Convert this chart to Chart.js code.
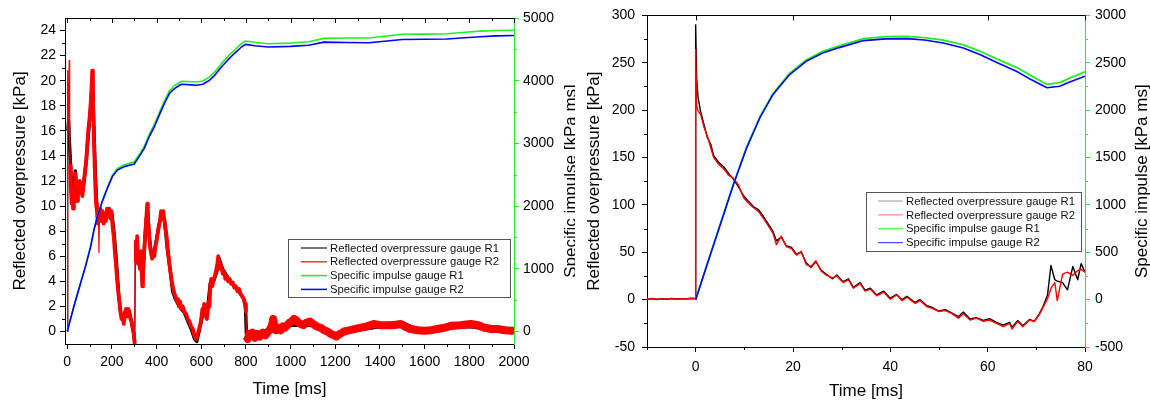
<!DOCTYPE html>
<html>
<head>
<meta charset="utf-8">
<title>Reflected overpressure and specific impulse</title>
<script src="https://cdn.jsdelivr.net/npm/chart.js@4.4.1/dist/chart.umd.min.js"></script>
<style>
  html, body { margin: 0; padding: 0; background: #fff; }
  #wrap { position: relative; width: 1150px; height: 403px; }
  canvas { position: absolute; top: 0; }
  #left { left: 0; }
  #right { left: 575px; }
</style>
</head>
<body>
<div id="wrap">
  <canvas id="left" width="575" height="403"></canvas>
  <canvas id="right" width="575" height="403"></canvas>
</div>
<script>
// ---------- left panel: 0 - 2000 ms ----------
const leftPressTimeR2 = [
  0, 1, 3, 6, 9, 11, 13, 16, 20, 23,
  26, 30, 34, 37, 40, 44, 48, 52, 56, 60,
  64, 68, 72, 76, 80, 85, 90, 95, 100, 105,
  109, 112, 115, 119, 124, 129, 133, 137, 140, 142,
  144, 148, 153, 158, 163, 168, 173, 178, 183, 188,
  193, 198, 203, 208, 213, 218, 223, 228, 233, 238,
  243, 248, 253, 258, 263, 268, 273, 278, 283, 288,
  293, 298, 302, 304, 307, 310, 313, 317, 321, 325,
  329, 333, 336, 339, 342, 346, 350, 354, 358, 361,
  364, 368, 372, 376, 380, 385, 390, 395, 400, 405,
  410, 415, 420, 425, 430, 435, 440, 445, 450, 455,
  460, 465, 470, 475, 480, 485, 490, 495, 500, 505,
  510, 517, 524, 532, 540, 547, 555, 562, 570, 577,
  584, 590, 596, 601, 605, 609, 613, 617, 621, 625,
  629, 633, 637, 641, 645, 649, 654, 660, 666, 672,
  676, 680, 685, 690, 696, 702, 708, 714, 720, 727,
  734, 741, 748, 755, 762, 769, 776, 783, 790, 796,
  800, 802, 808, 815, 822, 830, 840, 850, 862, 875,
  888, 900, 910, 918, 922, 927, 935, 945, 955, 965,
  975, 985, 995, 1005, 1015, 1025, 1035, 1045, 1057, 1070,
  1087, 1100, 1117, 1135, 1150, 1165, 1180, 1195, 1205, 1220,
  1240, 1265, 1290, 1315, 1340, 1372, 1400, 1432, 1460, 1492,
  1510, 1537, 1570, 1597, 1630, 1657, 1690, 1717, 1760, 1807,
  1840, 1867, 1900, 1927, 1960, 1995, 2000
];
const leftPressR2 = [
  0, 20.8, 15.0, 18.0, 21.6, 15.5, 13.2, 11.5, 10.2, 11.0,
  9.8, 10.6, 11.8, 12.6, 11.2, 10.4, 11.4, 11.0, 12.0, 11.2,
  11.8, 10.8, 11.6, 12.2, 12.8, 13.6, 15.0, 16.2, 17.0, 18.2,
  19.5, 20.8, 18.8, 15.5, 12.5, 10.2, 9.6, 8.6, 9.4, 6.3,
  9.0, 9.8, 8.8, 9.6, 8.6, 9.4, 8.8, 9.8, 9.2, 9.8,
  9.0, 9.6, 8.4, 7.6, 6.4, 5.4, 4.2, 3.2, 2.4, 1.6,
  1.0, 1.2, 0.6, 1.4, 1.8, 1.2, 1.8, 1.6, 1.0, 0.8,
  0.2, -0.2, -1.0, 5.5, 7.2, 6.0, 7.6, 5.4, 6.2, 5.0,
  6.4, 4.8, 3.6, 4.4, 5.8, 6.8, 8.0, 9.0, 10.2, 9.0,
  8.2, 7.4, 6.6, 6.2, 5.8, 6.4, 6.0, 6.8, 7.2, 7.8,
  8.4, 8.8, 9.6, 9.2, 9.6, 8.8, 8.2, 7.6, 6.6, 5.8,
  5.0, 4.4, 3.8, 3.4, 3.0, 2.8, 2.4, 2.6, 2.0, 2.4,
  1.8, 2.0, 1.6, 1.4, 1.0, 0.8, 0.4, 0.2, -0.4, -0.6,
  -0.2, 0.2, 0.6, 1.2, 1.8, 1.4, 2.2, 2.0, 1.2, 1.0,
  1.6, 2.4, 2.0, 3.8, 4.2, 3.6, 4.0, 4.4, 4.8, 5.4,
  6.0, 5.6, 5.0, 5.2, 4.6, 4.8, 4.2, 4.4, 4.0, 4.2,
  3.8, 3.9, 3.5, 3.6, 3.2, 3.4, 3.0, 2.8, 2.6, 2.2,
  1.6, -0.4, -0.6, -0.2, -0.4, -0.1, -0.5, -0.2, -0.4, -0.1,
  -0.3, 0.0, 0.2, 0.6, 1.0, 0.4, 0.1, 0.3, 0.1, 0.4,
  0.3, 0.5, 0.7, 0.8, 1.0, 0.9, 0.7, 0.6, 0.5, 0.7,
  0.8, 0.6, 0.4, 0.3, 0.1, 0.0, -0.2, -0.3, -0.4, -0.2,
  0.0, 0.1, 0.2, 0.3, 0.4, 0.6, 0.5, 0.5, 0.5, 0.6,
  0.4, 0.2, 0.1, 0.05, 0.1, 0.2, 0.3, 0.45, 0.5, 0.6,
  0.5, 0.3, 0.2, 0.2, 0.1, 0.05, 0.0
];
const leftPressTimeR1 = [
  0, 1, 3, 6, 10, 14, 18, 24, 30, 36,
  42, 48, 55, 62, 70, 78, 86, 95, 104, 110,
  113, 118, 125, 132, 140, 150, 160, 170, 180, 190,
  200, 210, 220, 230, 240, 250, 260, 270, 280, 290,
  298, 302, 305, 312, 320, 330, 338, 346, 354, 360,
  368, 378, 390, 400, 412, 424, 436, 448, 460, 472,
  484, 496, 510, 525, 540, 555, 570, 580, 590, 600,
  612, 625, 640, 655, 670, 680, 695, 715, 740, 765,
  790, 798, 802, 830, 860, 900, 925, 960, 1000, 1050,
  1100, 1150, 1200, 1260, 1330, 1400, 1500, 1560, 1640, 1720,
  1800, 1880, 1950, 2000
];
const leftPressR1 = [
  0, 19.8, 16.0, 16.8, 15.0, 13.6, 12.0, 10.8, 11.4, 12.8,
  11.2, 11.0, 11.6, 11.4, 11.2, 12.4, 13.8, 15.8, 17.6, 19.2,
  20.2, 17.0, 13.0, 10.0, 9.2, 9.4, 9.0, 9.2, 9.6, 9.4,
  9.4, 7.8, 5.6, 3.0, 1.4, 1.0, 1.6, 1.4, 1.4, 0.6,
  -0.2, -0.9, 6.6, 6.4, 5.8, 5.6, 4.2, 6.8, 9.0, 9.6,
  7.4, 6.0, 6.4, 7.4, 8.6, 9.4, 8.8, 6.6, 5.0, 3.2,
  2.6, 2.2, 1.8, 1.5, 0.8, 0.2, -0.6, -0.8, 0.0, 0.8,
  1.8, 1.2, 3.8, 4.0, 4.8, 5.8, 5.0, 4.4, 3.8, 3.3,
  2.6, 2.0, -0.2, -0.3, -0.2, 0.0, 0.3, 0.2, 0.6, 0.6,
  0.6, 0.1, -0.3, 0.1, 0.3, 0.5, 0.6, 0.1, 0.1, 0.4,
  0.5, 0.3, 0.1, 0.0
];
const leftImpTime = [
  0, 30, 60, 82, 105, 120, 135, 157, 180, 202,
  225, 255, 300, 322, 345, 367, 390, 412, 435, 457,
  480, 510, 540, 577, 607, 637, 660, 690, 720, 750,
  780, 798, 840, 900, 1000, 1080, 1150, 1250, 1350, 1420,
  1500, 1600, 1700, 1780, 1850, 1920, 2000
];
const leftImpR1 = [
  0, 405, 778, 1045, 1365, 1632, 1846, 2088, 2302, 2492,
  2602, 2660, 2705, 2822, 2956, 3142, 3302, 3488, 3676, 3838,
  3920, 3990, 3988, 3980, 3996, 4060, 4140, 4272, 4388, 4494,
  4590, 4632, 4612, 4590, 4600, 4620, 4675, 4680, 4680, 4710,
  4740, 4742, 4748, 4772, 4790, 4800, 4805
];
const leftImpR2 = [
  0, 403, 774, 1039, 1357, 1622, 1834, 2072, 2284, 2470,
  2576, 2629, 2671, 2788, 2920, 3106, 3265, 3450, 3636, 3795,
  3874, 3943, 3938, 3927, 3943, 4007, 4086, 4219, 4335, 4441,
  4537, 4579, 4558, 4537, 4547, 4565, 4615, 4610, 4605, 4630,
  4658, 4660, 4665, 4685, 4700, 4715, 4722
];
const leftXTicks = [0, 200, 400, 600, 800, 1000, 1200, 1400, 1600, 1800, 2000];
const leftXMinor = [100, 300, 500, 700, 900, 1100, 1300, 1500, 1700, 1900];
const leftYTicks = [0, 2, 4, 6, 8, 10, 12, 14, 16, 18, 20, 22, 24];
const leftYMinor = [1, 3, 5, 7, 9, 11, 13, 15, 17, 19, 21, 23];
const leftY2Ticks = [0, 1000, 2000, 3000, 4000, 5000];
const leftY2Minor = [500, 1500, 2500, 3500, 4500];

// ---------- right panel: -10 - 80 ms ----------
const rightPressTime = [
  -10, -9, -8, -7, -6, -5, -4, -3, -2, -1,
  -0.05, 0, 0.2, 0.5, 1, 1.7, 2.4, 3.1, 3.7, 4.7,
  5.8, 6.8, 7.8, 8.8, 9.8, 10.8, 11.9, 12.9, 13.9, 14.9,
  15.9, 16.6, 17.6, 18.6, 19.7, 20.7, 21.7, 22.7, 23.7, 24.7,
  25.8, 26.8, 28.1, 29.0, 30.3, 31.4, 32.4, 33.8, 34.8, 35.9,
  37.2, 38.6, 40.0, 41.3, 42.4, 43.4, 45.1, 46.1, 47.5, 48.5,
  49.9, 51.3, 52.6, 54.0, 55.0, 56.4, 57.7, 59.1, 60.4, 61.8,
  63.2, 64.5, 65.0, 66.2, 67.2, 68.6, 69.6, 70.6, 71.3, 72.3,
  73.0, 73.8, 74.3, 75.4, 76.4, 77.5, 78.5, 79.2, 80
];
const rightPressR1 = [
  0.5, 1.2, 0.2, 1.0, 0.4, 1.3, 0.6, 1.1, 0.8, 1.5,
  1.2, 290, 234, 213, 199, 185, 171, 164, 152, 145,
  140, 133, 127, 119, 110, 104, 98, 95, 88, 80,
  72, 62, 66, 57, 55, 48, 50, 39, 34, 40,
  31, 27, 22, 26, 19, 22, 13, 18, 10, 12,
  5, 9, 1.5, 5.5, 0, 3.5, -3, 0, -6.5, -8,
  -12, -10.5, -14, -18, -13, -20.5, -19, -22, -20, -24,
  -27, -24, -29, -22, -27.5, -21, -23, -15, -8, 5,
  36, 21, 19.5, 18, 10.3, 35, 21, 38, 29
];
const rightPressR2 = [
  0.6, 0.9, 0.4, 0.8, 0.6, 1.0, 0.5, 0.9, 0.7, 1.1,
  1.0, 264, 205, 199, 196, 182, 173, 160, 150, 143,
  138, 131, 128, 121, 108, 102, 97, 93, 86, 78,
  70, 58, 67, 56, 54, 47, 51, 37, 35, 41,
  30, 26, 23, 25, 18, 21, 12, 17, 9, 11,
  4, 8, 0.5, 5, -1, 2.5, -4, -1, -7.5, -9,
  -12.5, -11.5, -14.5, -19.5, -15, -21.5, -19.5, -23, -21.5, -25,
  -28.5, -25, -31, -23, -28.5, -21.5, -23, -16, -9, 1,
  12, 18, -1, 27, 29, 25.5, 30.7, 32, 29
];
const rightImpTime = [
  0, 2.4, 5.1, 7.8, 10.5, 13.2, 15.9, 19.3, 22.7, 26.1,
  29.5, 34.5, 39, 43.4, 47, 50.9, 55, 58.4, 62, 65.9,
  69, 72.2, 74.8, 77, 80
];
const rightImpR1 = [
  0, 380, 802, 1225, 1612, 1928, 2176, 2388, 2530, 2620,
  2678, 2755, 2775, 2779, 2766, 2738, 2688, 2622, 2538, 2452,
  2362, 2271, 2290, 2340, 2404
];
const rightImpR2 = [
  0, 378, 799, 1220, 1605, 1920, 2166, 2376, 2516, 2604,
  2660, 2734, 2752, 2755, 2740, 2709, 2655, 2587, 2500, 2411,
  2320, 2236, 2253, 2300, 2359
];
const rightXTicks = [0, 20, 40, 60, 80];
const rightXMinor = [-10, 10, 30, 50, 70];
const rightYTicks = [-50, 0, 50, 100, 150, 200, 250, 300];
const rightYMinor = [-25, 25, 75, 125, 175, 225, 275];
const rightY2Ticks = [-500, 0, 500, 1000, 1500, 2000, 2500, 3000];
const rightY2Minor = [-250, 250, 750, 1250, 1750, 2250, 2750];

const seriesNames = [
  "Reflected overpressure gauge R1",
  "Reflected overpressure gauge R2",
  "Specific impulse gauge R1",
  "Specific impulse gauge R2"
];

const FONT = '"Liberation Sans", Arial, sans-serif';
const GREEN = "#22ee22";

function pts(xs, ys) {
  return xs.map((x, i) => ({ x: x, y: ys[i] }));
}

// noisy gauge traces: thin on the sharp jumps, a wide band after the 800 ms drop
function bandWidth(wide) {
  return (c) => {
    const dx = c.p1.parsed.x - c.p0.parsed.x;
    const dy = Math.abs(c.p1.parsed.y - c.p0.parsed.y);
    if (dy / dx > 0.95) return 1.2;
    return c.p0.parsed.x >= 802 ? wide : undefined;
  };
}

// draws minor ticks, the top frame line, axis titles and the boxed legend
const frame = {
  id: "frame",
  afterDraw(chart, args, o) {
    const ctx = chart.ctx;
    const a = chart.chartArea;
    const sx = chart.scales.x, sy = chart.scales.y, sy2 = chart.scales.y2;
    const p = (v) => Math.round(v) + 0.5;
    ctx.save();
    ctx.lineWidth = 1;

    ctx.strokeStyle = "#000";
    ctx.beginPath();
    ctx.moveTo(a.left, p(a.top));
    ctx.lineTo(a.right, p(a.top));
    o.xMinor.forEach((v) => {
      const x = p(sx.getPixelForValue(v));
      ctx.moveTo(x, a.bottom); ctx.lineTo(x, a.bottom + 3);
    });
    o.xTicks.forEach((v) => {
      const x = p(sx.getPixelForValue(v));
      ctx.moveTo(x, a.top); ctx.lineTo(x, a.top + 5);
    });
    if (o.topMinor) {
      o.xMinor.forEach((v) => {
        const x = p(sx.getPixelForValue(v));
        ctx.moveTo(x, a.top); ctx.lineTo(x, a.top + 3);
      });
    }
    o.yMinor.forEach((v) => {
      const y = p(sy.getPixelForValue(v));
      ctx.moveTo(a.left - 3, y); ctx.lineTo(a.left, y);
    });
    ctx.stroke();

    ctx.strokeStyle = GREEN;
    ctx.beginPath();
    o.y2Minor.forEach((v) => {
      const y = p(sy2.getPixelForValue(v));
      ctx.moveTo(a.right, y); ctx.lineTo(a.right + 3, y);
    });
    ctx.stroke();

    // axis titles
    ctx.fillStyle = "#000";
    ctx.font = "17px " + FONT;
    ctx.textAlign = "center";
    ctx.textBaseline = "middle";
    ctx.fillText(o.xTitle, (a.left + a.right) / 2, o.xTitleY);
    const midY = (a.top + a.bottom) / 2;
    [[o.yTitle, o.yTitleX], [o.y2Title, o.y2TitleX]].forEach(([t, x]) => {
      ctx.save();
      ctx.translate(x, midY);
      ctx.rotate(-Math.PI / 2);
      ctx.fillText(t, 0, 0);
      ctx.restore();
    });

    // legend
    const L = o.legend;
    ctx.fillStyle = "#fff";
    ctx.fillRect(L.x, L.y, L.w, L.h);
    ctx.strokeStyle = "#555";
    ctx.strokeRect(L.x + 0.5, L.y + 0.5, L.w, L.h);
    ctx.font = "11.3px " + FONT;
    ctx.textAlign = "left";
    chart.data.datasets.forEach((ds, i) => {
      const y = L.rowY + i * L.rowH;
      ctx.strokeStyle = L.colors[i];
      ctx.lineWidth = L.lineW;
      ctx.beginPath();
      ctx.moveTo(L.x0, y);
      ctx.lineTo(L.x1, y);
      ctx.stroke();
      ctx.fillStyle = "#111";
      ctx.fillText(ds.label, L.textX, y + 0.5);
    });
    ctx.restore();
  }
};

function axis(pos, min, max, ticks, color, pad, size) {
  return {
    type: "linear",
    position: pos,
    min: min,
    max: max,
    afterBuildTicks: (s) => { s.ticks = ticks.map((v) => ({ value: v })); },
    afterFit: (s) => {
      if (pos === "bottom") s.height = size; else s.width = size;
    },
    ticks: {
      autoSkip: false,
      maxRotation: 0,
      minRotation: 0,
      padding: pad,
      color: "#000",
      font: { family: FONT, size: 14 },
      callback: (v) => String(v)
    },
    grid: { display: true, drawOnChartArea: false, drawTicks: true, tickLength: 5, color: color, lineWidth: 1 },
    border: { display: true, color: color, width: 1 },
    title: { display: false }
  };
}

function line(label, data, color, width, yId, order, extra) {
  return Object.assign({
    label: label,
    data: data,
    borderColor: color,
    borderWidth: width,
    pointRadius: 0,
    tension: 0,
    fill: false,
    borderJoinStyle: "round",
    yAxisID: yId,
    order: order
  }, extra || {});
}

const titles = {
  xTitle: "Time [ms]",
  yTitle: "Reflected overpressure [kPa]",
  y2Title: "Specific impulse [kPa ms]"
};

new Chart(document.getElementById("left"), {
  type: "line",
  data: {
    datasets: [
      line(seriesNames[0], pts(leftPressTimeR1, leftPressR1), "#000", 3.4, "y", 4,
        { segment: { borderWidth: bandWidth(6) } }),
      line(seriesNames[1], pts(leftPressTimeR2, leftPressR2), "#ff0000", 3.8, "y", 3,
        { segment: { borderWidth: bandWidth(8) } }),
      line(seriesNames[2], pts(leftImpTime, leftImpR1), GREEN, 1.6, "y2", 2),
      line(seriesNames[3], pts(leftImpTime, leftImpR2), "#0000ff", 1.6, "y2", 1)
    ]
  },
  options: {
    responsive: false,
    animation: false,
    devicePixelRatio: 1,
    parsing: false,
    layout: { padding: { top: 18, left: 0, right: 0, bottom: 0 } },
    scales: {
      x: axis("bottom", -10, 2000, leftXTicks, "#000", 5, 59),
      y: axis("left", -1, 25, leftYTicks, "#000", 4, 65),
      y2: axis("right", -200, 5000, leftY2Ticks, GREEN, 4, 61)
    },
    plugins: {
      legend: { display: false },
      tooltip: { enabled: false },
      frame: Object.assign({}, titles, {
        xMinor: leftXMinor, xTicks: leftXTicks, topMinor: true,
        yMinor: leftYMinor, y2Minor: leftY2Minor,
        xTitleY: 389, yTitleX: 20, y2TitleX: 571,
        legend: {
          x: 288, y: 239, w: 222, h: 58,
          x0: 301, x1: 327, textX: 330, rowY: 248, rowH: 13.8, lineW: 1.5,
          colors: ["#444", "#ff3030", GREEN, "#0000ff"]
        }
      })
    }
  },
  plugins: [frame]
});

new Chart(document.getElementById("right"), {
  type: "line",
  data: {
    datasets: [
      line(seriesNames[0], pts(rightPressTime, rightPressR1), "#000", 1.4, "y", 4),
      line(seriesNames[1], pts(rightPressTime, rightPressR2), "#ff0000", 1.4, "y", 3),
      line(seriesNames[2], pts(rightImpTime, rightImpR1), GREEN, 1.8, "y2", 2),
      line(seriesNames[3], pts(rightImpTime, rightImpR2), "#0000ff", 1.6, "y2", 1)
    ]
  },
  options: {
    responsive: false,
    animation: false,
    devicePixelRatio: 1,
    parsing: false,
    layout: { padding: { top: 14, left: 0, right: 0, bottom: 0 } },
    scales: {
      x: axis("bottom", -10, 80, rightXTicks, "#000", 7, 56),
      y: axis("left", -50, 300, rightYTicks, "#000", 7, 72),
      y2: axis("right", -500, 3000, rightY2Ticks, GREEN, 5, 65)
    },
    plugins: {
      legend: { display: false },
      tooltip: { enabled: false },
      frame: Object.assign({}, titles, {
        xMinor: rightXMinor, xTicks: rightXTicks, topMinor: false,
        yMinor: rightYMinor, y2Minor: rightY2Minor,
        xTitleY: 391.5, yTitleX: 19.5, y2TitleX: 567,
        legend: {
          x: 291, y: 192, w: 215, h: 59,
          x0: 303, x1: 328, textX: 331, rowY: 201, rowH: 13.9, lineW: 1,
          colors: ["#999", "#ff7070", GREEN, "#2020ff"]
        }
      })
    }
  },
  plugins: [frame]
});
</script>
</body>
</html>
